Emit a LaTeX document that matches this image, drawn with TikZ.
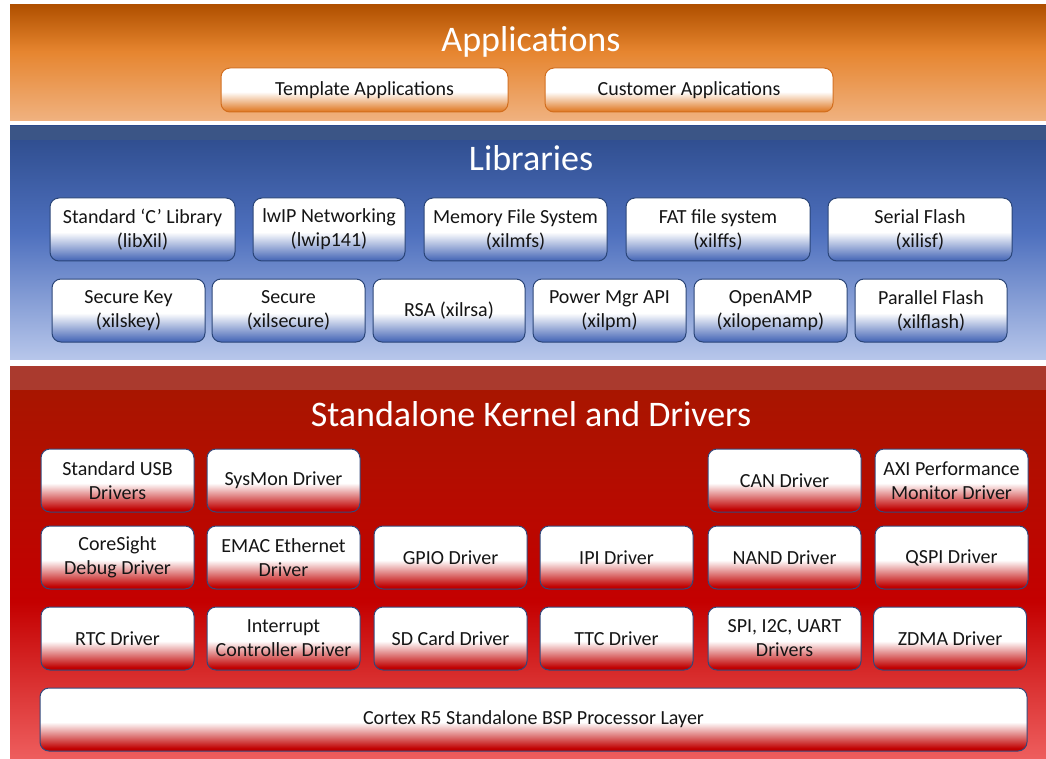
\documentclass[tikz,border=0pt]{standalone}
\usepackage{fontspec}
\setmainfont{Carlito}
\definecolor{orA}{HTML}{B05000}
\definecolor{orB}{HTML}{E6852F}
\definecolor{orC}{HTML}{F0B280}
\definecolor{blA}{HTML}{2C4A8A}
\definecolor{blB}{HTML}{4E70BE}
\definecolor{blC}{HTML}{B7C6EA}
\definecolor{blStrip}{HTML}{3B5586}
\definecolor{rdA}{HTML}{A51800}
\definecolor{rdB}{HTML}{C40000}
\definecolor{rdC}{HTML}{EE5E5E}
\definecolor{rdStrip}{HTML}{AA3A2E}
\definecolor{boxOr}{HTML}{E07A25}
\definecolor{boxOrLine}{HTML}{D26E1E}
\definecolor{boxBl}{HTML}{4A6AB8}
\definecolor{boxBlLine}{HTML}{2A4578}
\definecolor{boxRd}{HTML}{C00000}
\definecolor{boxRdLine}{HTML}{34487A}
\definecolor{txt}{HTML}{151515}
\pgfdeclareverticalshading{orpanel}{100bp}{color(0bp)=(orC); color(25bp)=(orC); color(55bp)=(orB); color(75bp)=(orA); color(100bp)=(orA)}
\pgfdeclareverticalshading{blpanel}{100bp}{color(0bp)=(blC); color(25bp)=(blC); color(52bp)=(blB); color(75bp)=(blA); color(100bp)=(blA)}
\pgfdeclareverticalshading{rdpanel}{100bp}{color(0bp)=(rdC); color(25bp)=(rdC); color(45bp)=(rdB); color(75bp)=(rdA); color(100bp)=(rdA)}
\pgfdeclareverticalshading{orbox}{100bp}{color(0bp)=(boxOr); color(26bp)=(boxOr); color(48bp)=(white); color(100bp)=(white)}
\pgfdeclareverticalshading{blbox}{100bp}{color(0bp)=(boxBl); color(26bp)=(boxBl); color(48bp)=(white); color(100bp)=(white)}
\pgfdeclareverticalshading{rdbox}{100bp}{color(0bp)=(boxRd); color(27bp)=(boxRd); color(48bp)=(white); color(100bp)=(white)}
\tikzset{
  basebox/.style={rounded corners=9pt, line width=1pt, align=center, inner sep=0pt,
    text=txt, font=\fontsize{20}{24}\selectfont, minimum height=63pt},
  obox/.style={basebox, draw=boxOrLine, shading=orbox, minimum height=44pt},
  bbox/.style={basebox, draw=boxBlLine, shading=blbox},
  rbox/.style={basebox, draw=boxRdLine, shading=rdbox, minimum width=153pt},
  ttl/.style={text=white, font=\fontsize{36}{40}\selectfont, inner sep=0pt}
}
\begin{document}
\begin{tikzpicture}[x=1pt,y=-1pt]
\useasboundingbox (0,0) rectangle (1046,759);
\fill[white] (0,0) rectangle (1046,759);
% panels
\shade[shading=orpanel] (10,5) rectangle (1046,121);
\shade[shading=blpanel] (10,126) rectangle (1046,359);
\fill[blStrip] (10,126) rectangle (1046,140);
\shade[shading=rdpanel] (10,366) rectangle (1046,759);
\fill[rdStrip] (10,366) rectangle (1046,390);
% titles
\node[ttl] (tapp) at (531,42) {Applications};
\node[ttl] (tlib) at (531,158) {Libraries};
\node[ttl] (tker) at (531,414) {Standalone Kernel and Drivers};
% applications
\node[obox, minimum width=287pt] (tmpl) at (364.5,90) {Template Applications};
\node[obox, minimum width=288pt] (cust) at (689,90) {Customer Applications};
% libraries row 1
\node[bbox, minimum width=185pt] (libc) at (142.5,229.5) {Standard ‘C’ Library\\(libXil)};
\node[bbox, minimum width=152pt] (lwip) at (329,229.5) {lwIP Networking\\(lwip141)};
\node[bbox, minimum width=183pt] (mfs) at (515.5,229.5) {Memory File System\\(xilmfs)};
\node[bbox, minimum width=184pt] (fat) at (718,229.5) {FAT file system\\(xilffs)};
\node[bbox, minimum width=184pt] (isf) at (920,229.5) {Serial Flash\\(xilisf)};
% libraries row 2
\node[bbox, minimum width=153pt] (skey) at (128.5,310.5) {Secure Key\\(xilskey)};
\node[bbox, minimum width=153pt] (sec) at (288.5,310.5) {Secure\\(xilsecure)};
\node[bbox, minimum width=152pt] (rsa) at (449,310.5) {RSA (xilrsa)};
\node[bbox, minimum width=153pt] (pm) at (609.5,310.5) {Power Mgr API\\(xilpm)};
\node[bbox, minimum width=153pt] (amp) at (770.5,310.5) {OpenAMP\\(xilopenamp)};
\node[bbox, minimum width=152pt] (pfl) at (931,310.5) {Parallel Flash\\(xilflash)};
% drivers row 1
\node[rbox] (usb) at (117.5,480.5) {Standard USB\\Drivers};
\node[rbox] (sysmon) at (283.5,480.5) {SysMon Driver};
\node[rbox] (can) at (784.5,480.5) {CAN Driver};
\node[rbox] (axi) at (951.5,480.5) {AXI Performance\\Monitor Driver};
% drivers row 2
\node[rbox] (cs) at (117.5,557.5) {CoreSight\\Debug Driver};
\node[rbox] (emac) at (283.5,557.5) {EMAC Ethernet\\Driver};
\node[rbox] (gpio) at (450.5,557.5) {GPIO Driver};
\node[rbox] (ipi) at (616.5,557.5) {IPI Driver};
\node[rbox] (nand) at (784.5,557.5) {NAND Driver};
\node[rbox] (qspi) at (951.5,557.5) {QSPI Driver};
% drivers row 3
\node[rbox] (rtc) at (117.5,638.5) {RTC Driver};
\node[rbox] (intc) at (283.5,638.5) {Interrupt\\Controller Driver};
\node[rbox] (sd) at (450.5,638.5) {SD Card Driver};
\node[rbox] (ttc) at (616.5,638.5) {TTC Driver};
\node[rbox] (spi) at (784.5,638.5) {SPI, I2C, UART\\Drivers};
\node[rbox] (zdma) at (950,638.5) {ZDMA Driver};
% BSP
\node[rbox, minimum width=987pt] (bsp) at (533.5,719.5) {Cortex R5 Standalone BSP Processor Layer};
\end{tikzpicture}
\end{document}
